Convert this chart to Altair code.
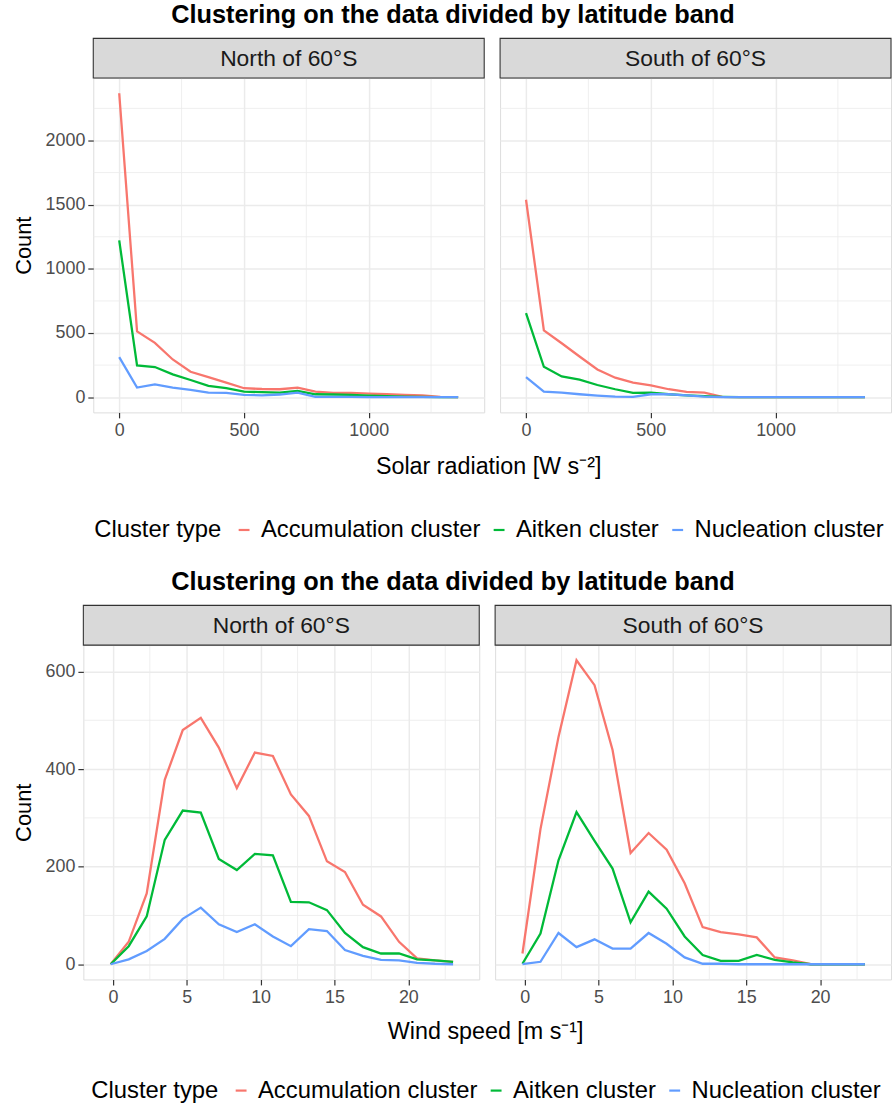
import altair as alt
import pandas as pd

FONT = "Liberation Sans"
TITLE = "Clustering on the data divided by latitude band"
CLUSTERS = ["Accumulation cluster", "Aitken cluster", "Nucleation cluster"]
COLORS = ["#F8766D", "#00BA38", "#619CFF"]
BANDS = ["North of 60°S", "South of 60°S"]

# ---- Solar radiation (x) ----
rad_x = [0, 71.5, 143, 214.5, 286, 357.5, 429, 500.5, 572, 643.5,
         715, 786.5, 858, 929.5, 1001, 1072.5, 1144, 1215.5, 1287, 1358.5]
rad_acc_north = [2368, 513, 423, 294, 198, 157, 113, 70, 64, 62, 75, 44, 34, 34, 28, 23, 18, 15, 3, 0]
rad_ait_north = [1222, 247, 235, 178, 134, 88, 70, 44, 39, 36, 49, 23, 21, 18, 13, 8, 5, 3, 0, 0]
rad_nuc_north = [312, 75, 100, 75, 57, 36, 34, 18, 15, 21, 36, 3, 3, 3, 1, 1, 0, 0, 0, 0]
rad_acc_south = [1538, 521, 420, 317, 216, 152, 113, 93, 62, 41, 36, 3, 0, 0, 0, 0, 0, 0, 0, 0]
rad_ait_south = [655, 237, 162, 137, 95, 62, 34, 36, 23, 15, 8, 3, 0, 0, 0, 0, 0, 0, 0, 0]
rad_nuc_south = [157, 44, 36, 23, 13, 5, 3, 23, 23, 15, 5, 0, 0, 0, 0, 0, 0, 0, 0, 0]

# ---- Wind speed (x) ----
wind_x = [-0.15, 1.07, 2.29, 3.51, 4.73, 5.95, 7.17, 8.39, 9.61, 10.83,
          12.05, 13.27, 14.49, 15.71, 16.93, 18.15, 19.37, 20.59, 21.81, 23.03]
wind_acc_north = [0, 46, 145, 378, 480, 505, 444, 361, 434, 427, 348, 304, 211, 189, 122, 98, 46, 12, 8, 5]
wind_ait_north = [0, 37, 98, 255, 315, 311, 216, 193, 226, 223, 128, 127, 111, 64, 35, 22, 22, 10, 8, 5]
wind_nuc_north = [0, 10, 27, 52, 93, 116, 82, 66, 82, 57, 37, 72, 68, 29, 17, 9, 8, 3, 1, 0]
wind_acc_south = [22, 277, 466, 623, 572, 439, 228, 269, 235, 166, 76, 66, 61, 55, 14, 8, 0, 0, 0, 0]
wind_ait_south = [1, 63, 213, 312, 253, 196, 86, 149, 114, 57, 19, 7, 7, 19, 9, 4, 0, 0, 0, 0]
wind_nuc_south = [0, 5, 64, 35, 51, 32, 32, 64, 42, 14, 1, 1, 0, 0, 0, 0, 0, 0, 0, 0]

# axis ticks
rad_major = [0, 500, 1000]
rad_minor = [250, 750, 1250]
rad_count_major = [0, 500, 1000, 1500, 2000]
rad_count_minor = [250, 750, 1250, 1750, 2250]
wind_major = [0, 5, 10, 15, 20]
wind_minor = [2.5, 7.5, 12.5, 17.5, 22.5]
wind_count_major = [0, 200, 400, 600]
wind_count_minor = [100, 300, 500]

GRID = "#EBEBEB"
DARK = "#333333"


def long_df(xs, series):
    rows = []
    for name, vals in zip(CLUSTERS, series):
        for xv, yv in zip(xs, vals):
            rows.append({"x": xv, "count": yv, "cluster": name})
    return pd.DataFrame(rows)


def panel(df, band, w, h, xdom, ydom, xmaj, xmin, ymaj, ymin, show_y, legend):
    xs = alt.Scale(domain=xdom, nice=False, zero=False)
    ys = alt.Scale(domain=ydom, nice=False, zero=False)
    x_axis = alt.Axis(values=xmaj, format="d", title=None, grid=True, gridColor=GRID,
                      gridWidth=1.5, domain=False, ticks=True, tickColor=DARK, tickSize=5.5,
                      tickWidth=1.2, labelColor="#4D4D4D", labelFontSize=18, labelFont=FONT,
                      labelPadding=3.5, labelFlush=False)
    if show_y:
        y_axis = alt.Axis(values=ymaj, format="d", title="Count", grid=True, gridColor=GRID,
                          gridWidth=1.5, domain=False, ticks=True, tickColor=DARK, tickSize=5.5,
                          tickWidth=1.2, labelColor="#4D4D4D", labelFontSize=18, labelFont=FONT,
                          labelPadding=3, titleFont=FONT, titleFontSize=22, titleFontWeight="normal",
                          titleColor="black", titlePadding=10, labelFlush=False)
    else:
        y_axis = alt.Axis(values=ymaj, title=None, grid=True, gridColor=GRID, gridWidth=1.5,
                          domain=False, ticks=False, labels=False)

    vminor = alt.Chart(pd.DataFrame({"x": xmin})).mark_rule(color=GRID, strokeWidth=0.8).encode(
        x=alt.X("x:Q", scale=xs, axis=x_axis), y=alt.value(0), y2=alt.value(h))
    hminor = alt.Chart(pd.DataFrame({"count": ymin})).mark_rule(color=GRID, strokeWidth=0.8).encode(
        y=alt.Y("count:Q", scale=ys, axis=y_axis), x=alt.value(0), x2=alt.value(w))
    lines = alt.Chart(df).mark_line(strokeWidth=2.3).encode(
        x=alt.X("x:Q", scale=xs, axis=x_axis),
        y=alt.Y("count:Q", scale=ys, axis=y_axis),
        color=alt.Color("cluster:N", scale=alt.Scale(domain=CLUSTERS, range=COLORS), legend=legend),
    )
    sdf = pd.DataFrame({"band": [band]})
    strip = alt.Chart(sdf).mark_rect(fill="#D9D9D9", stroke=DARK, strokeWidth=1.1).encode(
        x=alt.value(0), x2=alt.value(w), y=alt.value(-40), y2=alt.value(0))
    strip_text = alt.Chart(sdf).mark_text(font=FONT, fontSize=23, color="#1A1A1A").encode(
        x=alt.value(w / 2), y=alt.value(-19), text="band:N")
    return alt.layer(vminor, hminor, lines, strip, strip_text).properties(width=w, height=h)


def spacer():
    return alt.Chart(pd.DataFrame({"s": [0]})).mark_point(opacity=0, size=0).encode(
        x=alt.value(0), y=alt.value(0)).properties(
        width=1, height=1, view=alt.ViewBackground(strokeOpacity=0, fillOpacity=0))


def make_half(xs, north, south, xdom, ydom, xmaj, xmin, ymaj, ymin, w, h, xtitle, dx, toff, lx, ly):
    legend = alt.Legend(orient="none", legendX=lx, legendY=ly, direction="horizontal",
                        title="Cluster type", titleOrient="left", titleFont=FONT, titleFontSize=24,
                        titleFontWeight="normal", titleColor="black", titlePadding=10,
                        labelFont=FONT, labelFontSize=24, labelColor="black", labelLimit=0,
                        symbolType="stroke", symbolStrokeWidth=2.2, symbolSize=120,
                        labelOffset=5, columnPadding=6)
    left = panel(long_df(xs, north), BANDS[0], w, h, xdom, ydom, xmaj, xmin, ymaj, ymin, True, legend)
    right = panel(long_df(xs, south), BANDS[1], w, h, xdom, ydom, xmaj, xmin, ymaj, ymin, False, legend)
    row = alt.hconcat(spacer(), left, right, spacing=12).properties(
        title=alt.TitleParams(xtitle, orient="bottom", anchor="middle", font=FONT, fontSize=23.5,
                              fontWeight="normal", color="black", offset=toff, dx=dx))
    return alt.vconcat(row, spacing=0).properties(
        title=alt.TitleParams(TITLE, anchor="middle", font=FONT, fontSize=25.5, fontWeight="bold",
                              color="black", offset=9, dx=8))


top = make_half(rad_x,
                [rad_acc_north, rad_ait_north, rad_nuc_north],
                [rad_acc_south, rad_ait_south, rad_nuc_south],
                [-104, 1463], [-118.4, 2486.4], rad_major, rad_minor,
                rad_count_major, rad_count_minor, 394, 337,
                "Solar radiation [W s\u207b\u00b2]", 44, 15.5, 97, 443.5)
bottom = make_half(wind_x,
                   [wind_acc_north, wind_ait_north, wind_nuc_north],
                   [wind_acc_south, wind_ait_south, wind_nuc_south],
                   [-2.0, 24.8], [-31.2, 654.2], wind_major, wind_minor,
                   wind_count_major, wind_count_minor, 399, 337,
                   "Wind speed [m s\u207b\u00b9]", 41, 14, 94, 437)

chart = alt.concat(top, bottom, columns=1, spacing=27.5, align="none").resolve_scale(
    color="independent").properties(
    padding={"left": -2, "top": -1.7, "right": 0, "bottom": 0}
).configure_view(stroke=DARK, strokeWidth=1.1).configure(background="white")

chart.save("out.html", embed_options={"renderer": "svg", "actions": False})
